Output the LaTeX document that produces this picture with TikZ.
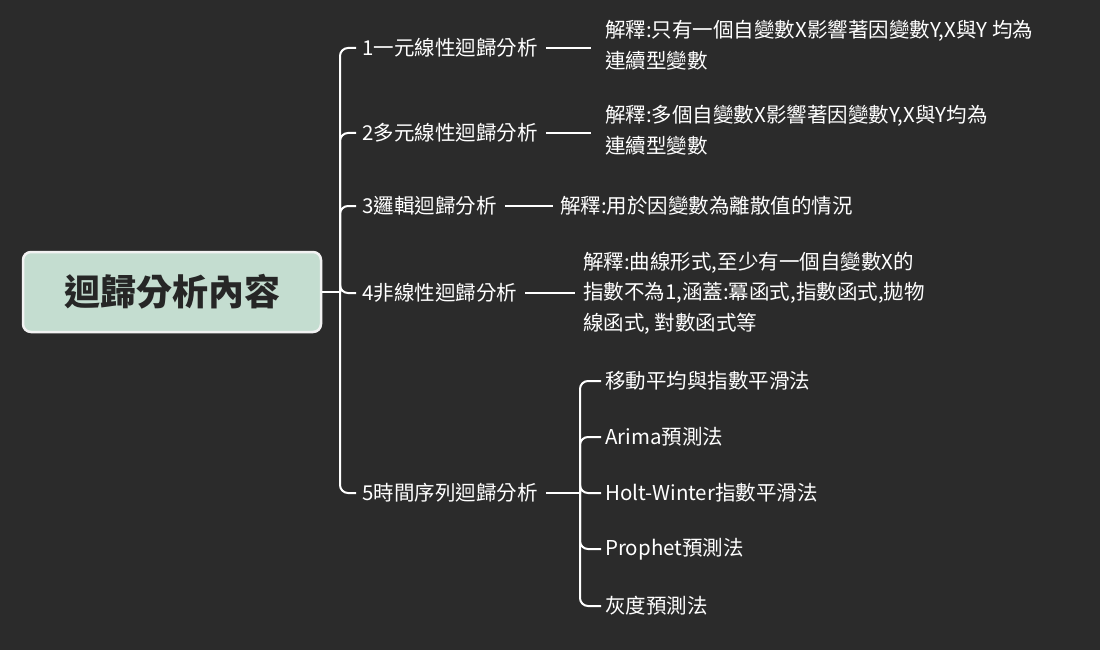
\documentclass[tikz,border=0pt]{standalone}
\usepackage{fontspec}
\setmainfont{Noto Sans CJK TC}
\definecolor{bg}{HTML}{2B2B2B}
\definecolor{rootfill}{HTML}{C4DDD0}
\definecolor{rootline}{HTML}{F2F2F2}
\begin{document}
\begin{tikzpicture}[x=1pt,y=-1pt,
  lbl/.style={anchor=west,text=white,font=\fontsize{20.5}{30.5}\selectfont,inner sep=0pt,align=left},
  conn/.style={draw=white,line width=2pt,rounded corners=8pt}]
\fill[bg] (0,0) rectangle (1100,650);
\useasboundingbox (0,0) rectangle (1100,650);
\node[draw=rootline,line width=2.5pt,fill=rootfill,rounded corners=8pt,minimum width=298pt,minimum height=80pt,font=\fontsize{36}{40}\selectfont\bfseries,text=black!85] (root) at (172,292) {迴歸分析內容};
\node[lbl] (b1) at (362,48) {1一元線性迴歸分析};
\node[lbl] (b2) at (362,133) {2多元線性迴歸分析};
\node[lbl] (b3) at (362,206) {3邏輯迴歸分析};
\node[lbl] (b4) at (362,293) {4非線性迴歸分析};
\node[lbl] (b5) at (362,493) {5時間序列迴歸分析};
\node[lbl] (d1) at (605,45) {解釋:只有一個自變數X影響著因變數Y,X與Y 均為\\連續型變數};
\node[lbl] (d2) at (605,130) {解釋:多個自變數X影響著因變數Y,X與Y均為\\連續型變數};
\node[lbl] (d3) at (560,206) {解釋:用於因變數為離散值的情況};
\node[lbl] (d4) at (583,293) {解釋:曲線形式,至少有一個自變數X的\\指數不為1,涵蓋:冪函式,指數函式,拋物\\線函式, 對數函式等};
\node[lbl] (s1) at (605,381) {移動平均與指數平滑法};
\node[lbl] (s2) at (605,437) {Arima預測法};
\node[lbl] (s3) at (605,493) {Holt-Winter指數平滑法};
\node[lbl] (s4) at (605,549) {Prophet預測法};
\node[lbl] (s5) at (605,606) {灰度預測法};
\coordinate (t) at (340,292);
\draw[conn] (root.east) -- (t);
\foreach \b in {b1,b2,b3,b4,b5}
  \draw[conn] (t) -- (t |- \b.west) -- ([xshift=-6pt]\b.west);
\draw[conn] ([xshift=8pt]b1.east) -- ([xshift=-14pt]d1.west |- b1.east);
\draw[conn] ([xshift=8pt]b2.east) -- ([xshift=-14pt]d2.west |- b2.east);
\draw[conn] ([xshift=8pt]b3.east) -- ([xshift=-7pt]d3.west);
\draw[conn] ([xshift=8pt]b4.east) -- ([xshift=-8pt]d4.west);
\coordinate (u) at (580,493);
\draw[conn] ([xshift=8pt]b5.east) -- (u);
\foreach \s in {s1,s2,s3,s4,s5}
  \draw[conn] (u) -- (u |- \s.west) -- ([xshift=-4pt]\s.west);
\end{tikzpicture}
\end{document}
